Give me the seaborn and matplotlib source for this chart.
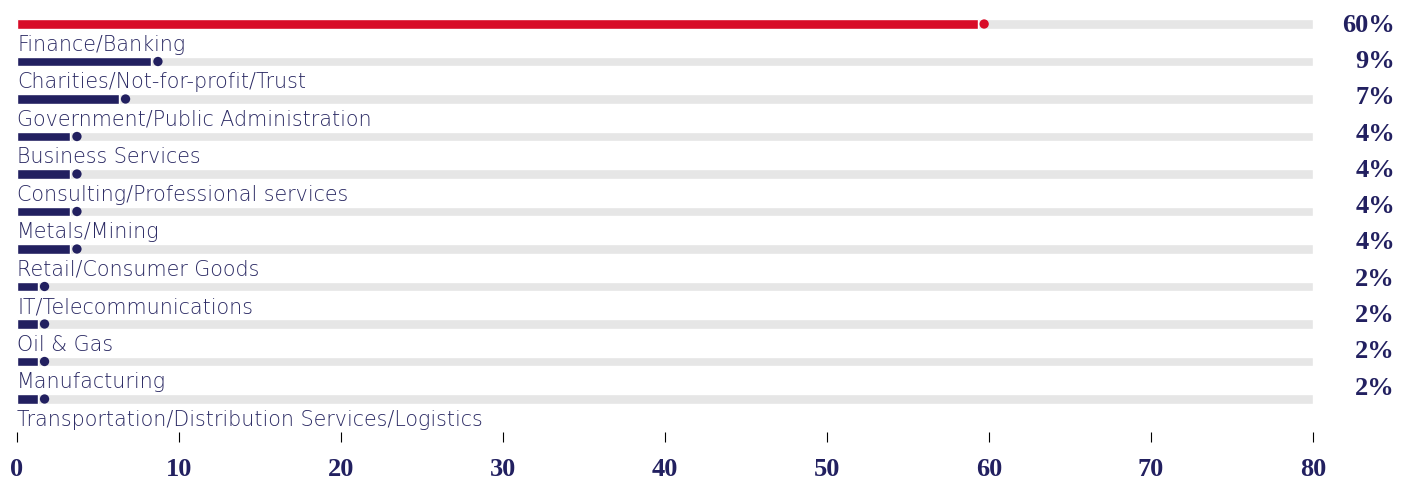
import numpy as np
import pandas as pd
import matplotlib
matplotlib.use("Agg")
import matplotlib.pyplot as plt
import matplotlib.transforms as mtransforms
import seaborn as sns

categories = [
    "Finance/Banking",
    "Charities/Not-for-profit/Trust",
    "Government/Public Administration",
    "Business Services",
    "Consulting/Professional services",
    "Metals/Mining",
    "Retail/Consumer Goods",
    "IT/Telecommunications",
    "Oil & Gas",
    "Manufacturing",
    "Transportation/Distribution Services/Logistics",
]
values = [60, 9, 7, 4, 4, 4, 4, 2, 2, 2, 2]
value_labels = ["60%", "9%", "7%", "4%", "4%", "4%", "4%", "2%", "2%", "2%", "2%"]
x_ticks = [0, 10, 20, 30, 40, 50, 60, 70, 80]

RED = "#d80b27"
NAVY = "#222060"
GREY = "#e6e6e6"
LABEL = "#2a2963"

sns.set_theme(style="white")
plt.rcParams["font.family"] = ["DejaVu Sans"]

df = pd.DataFrame({"category": categories, "value": values})
df["bar"] = df["value"] - 0.7
df["dot"] = df["value"] - 0.3
df["track"] = 80
palette = {c: (RED if i == 0 else NAVY) for i, c in enumerate(categories)}

fig = plt.figure(figsize=(14.11, 4.83), dpi=100)
ax = fig.add_axes([17 / 1411, (483 - 432) / 483, 1296 / 1411, 432 / 483])

sns.barplot(data=df, x="track", y="category", color=GREY, width=0.25,
            orient="h", ax=ax, saturation=1)
sns.barplot(data=df, x="bar", y="category", hue="category", palette=palette,
            width=0.25, orient="h", ax=ax, saturation=1, legend=False)
sns.scatterplot(data=df, x="dot", y="category", hue="category", palette=palette,
                s=45, linewidth=0, ax=ax, legend=False, zorder=5)

ax.set_xlim(0, 80)
ax.set_ylim(10.88, -0.64)
for s in ax.spines.values():
    s.set_visible(False)
ax.set_xlabel("")
ax.set_ylabel("")
ax.set_yticks([])
ax.set_xticks(x_ticks)
ax.set_xticklabels([str(t) for t in x_ticks], fontfamily=["Liberation Serif", "DejaVu Serif"],
                   fontweight="bold", fontsize=19, color=NAVY)
ax.tick_params(axis="x", direction="out", length=7.5, width=0.8, color="black", pad=11, bottom=True)

for i, c in enumerate(categories):
    ax.text(0, i + 0.55, c, ha="left", va="center", fontsize=14.9,
            fontweight="light", color=LABEL)

trans = mtransforms.blended_transform_factory(fig.transFigure, ax.transData)
for i, lab in enumerate(value_labels):
    ax.text(1395 / 1411, i * 0.968 + 0.03, lab, transform=trans, ha="right", va="center",
            fontfamily=["Liberation Serif", "DejaVu Serif"], fontweight="bold",
            fontsize=19, color=NAVY, clip_on=False)

fig.savefig("out.png", dpi=100)
